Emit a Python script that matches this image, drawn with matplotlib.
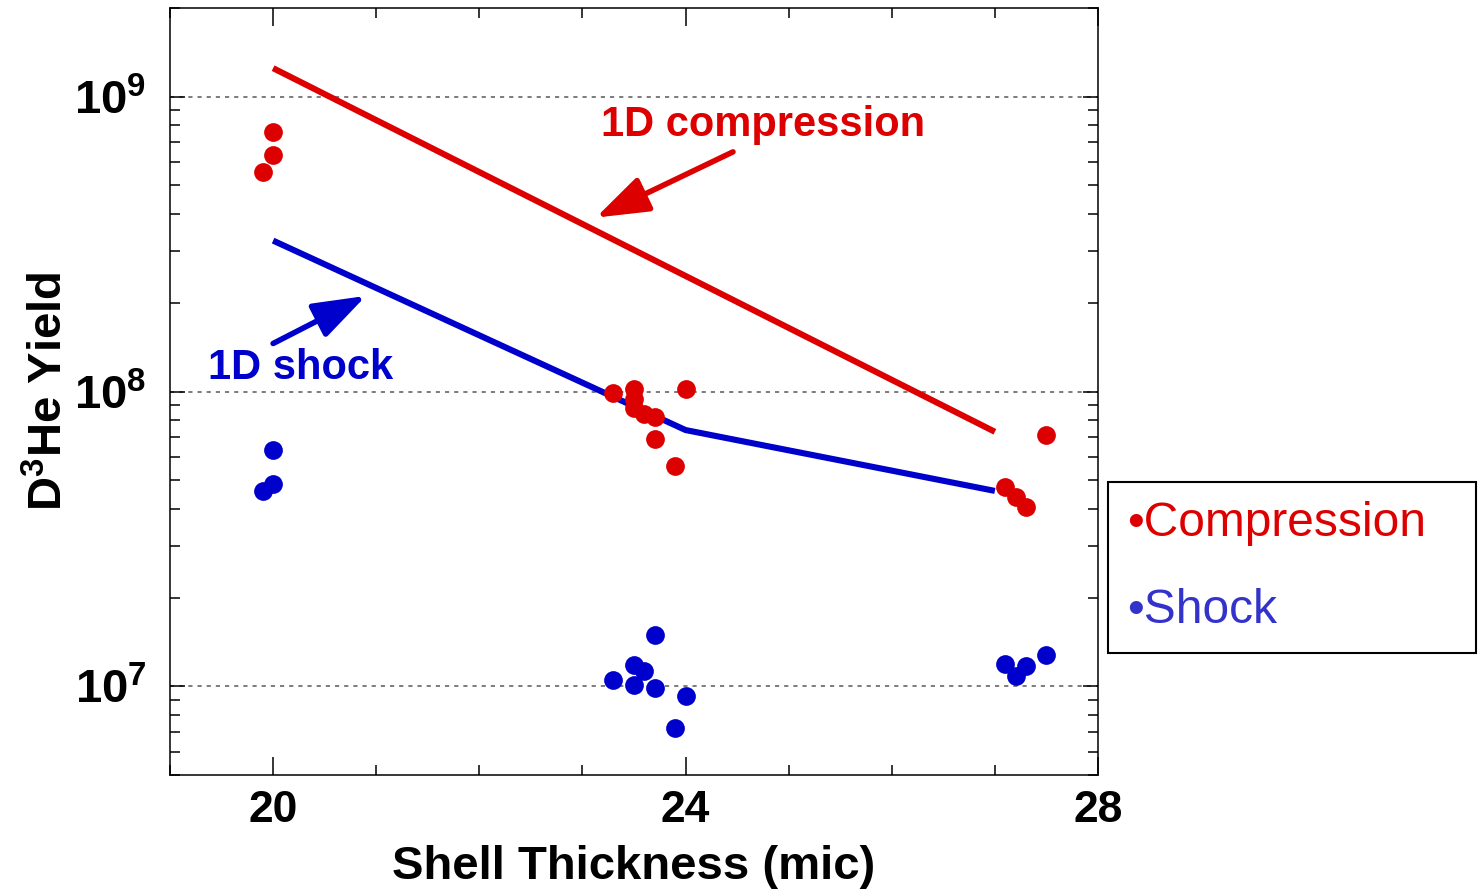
import numpy as np
import matplotlib
matplotlib.use("Agg")
import matplotlib.pyplot as plt
from matplotlib.ticker import MultipleLocator, LogLocator, FuncFormatter, NullFormatter
from matplotlib.lines import Line2D

plt.rcParams['font.family'] = ['Liberation Sans', 'DejaVu Sans']
plt.rcParams['mathtext.fontset'] = 'custom'
plt.rcParams['mathtext.rm'] = 'Liberation Sans'
plt.rcParams['mathtext.bf'] = 'Liberation Sans:bold'
plt.rcParams['mathtext.default'] = 'bf'

# measured yields vs shell thickness
comp_x = [19.9, 20.0, 20.0, 23.3, 23.5, 23.5, 23.5, 23.6, 23.7, 23.7, 23.9, 24.0,
          27.1, 27.2, 27.3, 27.5]
comp_y = [5.57e8, 7.6e8, 6.35e8, 9.9e7, 1.02e8, 9.4e7, 8.8e7, 8.4e7, 8.2e7, 6.9e7,
          5.57e7, 1.02e8, 4.73e7, 4.38e7, 4.05e7, 7.1e7]

shock_x = [19.9, 20.0, 20.0, 23.3, 23.5, 23.5, 23.6, 23.7, 23.7, 23.9, 24.0,
           27.1, 27.2, 27.3, 27.5]
shock_y = [4.6e7, 4.84e7, 6.35e7, 1.05e7, 1.18e7, 1.01e7, 1.13e7, 1.49e7, 9.85e6,
           7.2e6, 9.3e6, 1.19e7, 1.08e7, 1.17e7, 1.28e7]

# 1D simulation curves
sim_comp_x = [20.0, 27.0]
sim_comp_y = [1.25e9, 7.3e7]
sim_shock_x = [20.0, 24.0, 27.0]
sim_shock_y = [3.25e8, 7.4e7, 4.6e7]

RED = '#DD0000'
BLUE = '#0000CC'

fig = plt.figure(figsize=(14.8, 8.93), dpi=100)
ax = fig.add_axes([170/1480, 1 - 775/893, (1098 - 170)/1480, (775 - 8)/893])

ax.plot(sim_comp_x, sim_comp_y, color=RED, lw=4.4, solid_capstyle='butt', zorder=3)
ax.plot(sim_shock_x, sim_shock_y, color=BLUE, lw=4.4, solid_capstyle='butt', zorder=3)
ax.plot(comp_x, comp_y, 'o', color=RED, ms=13.5, mew=0, zorder=4)
ax.plot(shock_x, shock_y, 'o', color=BLUE, ms=13.5, mew=0, zorder=4)

ax.set_yscale('log')
ax.set_xlim(19.0, 28.0)
ax.set_ylim(5e6, 2e9)

ax.set_xticks([20, 24, 28])
ax.xaxis.set_minor_locator(MultipleLocator(1))
ax.yaxis.set_major_locator(LogLocator(base=10, numticks=10))
ax.yaxis.set_minor_locator(LogLocator(base=10, subs=np.arange(2, 10), numticks=20))
ax.yaxis.set_minor_formatter(NullFormatter())
ax.yaxis.set_major_formatter(FuncFormatter(lambda v, p: r'$10^{%d}$' % round(np.log10(v))))
ax.xaxis.set_major_formatter(FuncFormatter(lambda v, p: '%d' % v))

ax.tick_params(axis='both', which='both', direction='in', top=True, right=True,
               width=1.1, color='black')
ax.tick_params(axis='x', which='major', length=13, pad=11, labelsize=32)
ax.tick_params(axis='x', which='minor', length=7)
ax.tick_params(axis='y', which='major', length=11, pad=17, labelsize=34)
ax.tick_params(axis='y', which='minor', length=7)
for lab in ax.get_xticklabels():
    lab.set_fontweight('bold')

for s in ax.spines.values():
    s.set_linewidth(1.1)

ax.grid(True, which='major', axis='y', color='#666666', lw=1.2, linestyle=(0, (2.5, 3)))

ax.set_xlabel('Shell Thickness (mic)', fontsize=34, fontweight='bold', labelpad=10)
ax.set_ylabel(r'D$^{3}$He Yield', fontsize=34, fontweight='bold', labelpad=1)

# annotations for the 1D curves
arrow_style = '-|>,head_length=1.15,head_width=0.4'
ax.annotate('', xy=(23.13, 3.89e8), xytext=(24.46, 6.5e8),
            arrowprops=dict(arrowstyle=arrow_style, color=RED, lw=4,
                            mutation_scale=28, shrinkA=0, shrinkB=0))
ax.text(24.755, 8.0e8, '1D compression', color=RED, fontsize=30, fontweight='bold',
        ha='center', va='center')
ax.annotate('', xy=(20.90, 2.11e8), xytext=(20.0, 1.455e8),
            arrowprops=dict(arrowstyle=arrow_style, color=BLUE, lw=4,
                            mutation_scale=28, shrinkA=0, shrinkB=0))
ax.text(20.27, 1.2e8, '1D shock', color=BLUE, fontsize=30, fontweight='bold',
        ha='center', va='center')

handles = [Line2D([], [], linestyle='none'), Line2D([], [], linestyle='none')]
leg = fig.legend(handles, ['\u2022Compression', '\u2022Shock'],
                 loc='upper left',
                 bbox_to_anchor=(1108/1480, 1 - 482/893 - 0.01, (1476 - 1108)/1480, 0.01),
                 mode='expand', borderaxespad=0, fontsize=34.5,
                 handlelength=0, handletextpad=0,
                 labelcolor=[RED, '#3333CC'], fancybox=False, framealpha=1,
                 edgecolor='black', borderpad=0.4, labelspacing=0.88)
leg.get_frame().set_linewidth(1.5)
leg._legend_box.align = 'left'

fig.savefig('out.png', dpi=100)
